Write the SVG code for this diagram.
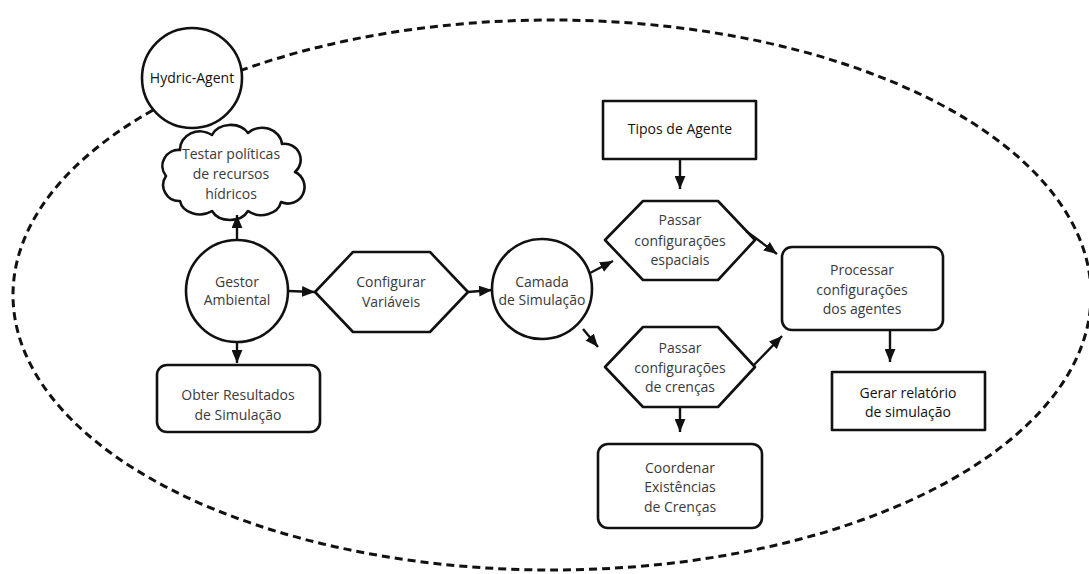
<svg xmlns="http://www.w3.org/2000/svg" width="1089" height="574" viewBox="0 0 1089 574">
<defs>
<marker id="ah" viewBox="0 0 12 10" refX="12" refY="5" markerWidth="13" markerHeight="11" markerUnits="userSpaceOnUse" orient="auto">
<path d="M0,0 L12,5 L0,10 Z" fill="#111"/>
</marker>
</defs>
<style>
.sh{fill:#fff;stroke:#111;stroke-width:2.6;stroke-linejoin:round}
.t{font-family:"Open Sans","Noto Sans",sans-serif;font-size:14px;fill:#3a3a3a;text-anchor:middle}
.d{fill:#111;font-weight:500}
.c{fill:none;stroke:#111;stroke-width:2.4;marker-end:url(#ah)}
.b{fill:none;stroke:#111;stroke-width:3;stroke-dasharray:8 5}
</style>
<rect width="1089" height="574" fill="#fff"/>
<ellipse class="b" cx="552" cy="295" rx="539" ry="275"/>
<g id="hydric-agent">
<circle class="sh" cx="192" cy="78" r="50"/>
<text class="t d" x="192" y="83">Hydric-Agent</text>
</g>
<g id="testar">
<path class="sh" d="M180,150 A20,18 0 0 1 212,135 A20,16 0 0 1 248,133 A20,18 0 0 1 282,144 A16,16 0 0 1 295,172 A16,16 0 0 1 281,202 A20,16 0 0 1 248,211 A20,16 0 0 1 212,211 A20,16 0 0 1 180,201 A16,16 0 0 1 166,176 A16,16 0 0 1 180,150 Z"/>
<text class="t" x="231" y="159">Testar políticas</text>
<text class="t" x="231" y="179">de recursos</text>
<text class="t" x="231" y="199">hídricos</text>
</g>
<g id="gestor">
<circle class="sh" cx="237" cy="291" r="51"/>
<text class="t" x="237" y="287">Gestor</text>
<text class="t" x="237" y="305">Ambiental</text>
</g>
<g id="obter">
<rect class="sh" x="157" y="365" width="163" height="67" rx="10"/>
<text class="t" x="238" y="400">Obter Resultados</text>
<text class="t" x="238" y="420">de Simulação</text>
</g>
<g id="configurar">
<polygon class="sh" points="315,292 353,252 430,252 468,292 430,332 353,332"/>
<text class="t" x="391" y="287">Configurar</text>
<text class="t" x="391" y="307">Variáveis</text>
</g>
<g id="camada">
<circle class="sh" cx="542" cy="289" r="50"/>
<text class="t" x="542" y="287">Camada</text>
<text class="t" x="542" y="305">de Simulação</text>
</g>
<g id="tipos">
<rect class="sh" x="603" y="101" width="153" height="58"/>
<text class="t d" x="680" y="134">Tipos de Agente</text>
</g>
<g id="passar-espaciais">
<polygon class="sh" points="605,240 643,201 718,201 755,240 718,280 643,280"/>
<text class="t" x="680" y="225">Passar</text>
<text class="t" x="680" y="246">configurações</text>
<text class="t" x="680" y="265">espaciais</text>
</g>
<g id="passar-crencas">
<polygon class="sh" points="605,367 643,327 718,327 755,367 718,407 643,407"/>
<text class="t" x="680" y="353">Passar</text>
<text class="t" x="680" y="373">configurações</text>
<text class="t" x="680" y="392">de crenças</text>
</g>
<g id="coordenar">
<rect class="sh" x="598" y="444" width="164" height="84" rx="10"/>
<text class="t" x="680" y="473">Coordenar</text>
<text class="t" x="680" y="492">Existências</text>
<text class="t" x="680" y="512">de Crenças</text>
</g>
<g id="processar">
<rect class="sh" x="782" y="247" width="161" height="83" rx="10"/>
<text class="t" x="862" y="275">Processar</text>
<text class="t" x="862" y="295">configurações</text>
<text class="t" x="862" y="314">dos agentes</text>
</g>
<g id="gerar">
<rect class="sh" x="832" y="372" width="153" height="58"/>
<text class="t d" x="908" y="398">Gerar relatório</text>
<text class="t d" x="908" y="417">de simulação</text>
</g>
<g id="connectors">
<line class="c" x1="237" y1="240" x2="237" y2="215"/>
<line class="c" x1="237" y1="342" x2="237" y2="363"/>
<line class="c" x1="288" y1="291" x2="315" y2="292"/>
<line class="c" x1="468" y1="292" x2="492" y2="290"/>
<line class="c" x1="590" y1="273" x2="613" y2="261"/>
<line class="c" x1="583" y1="329" x2="598" y2="347"/>
<line class="c" x1="680" y1="159" x2="680" y2="189"/>
<line class="c" x1="746" y1="231" x2="777" y2="254"/>
<line class="c" x1="753" y1="366" x2="782" y2="336"/>
<line class="c" x1="680" y1="407" x2="680" y2="432"/>
<line class="c" x1="890" y1="330" x2="890" y2="362"/>
</g>
</svg>
